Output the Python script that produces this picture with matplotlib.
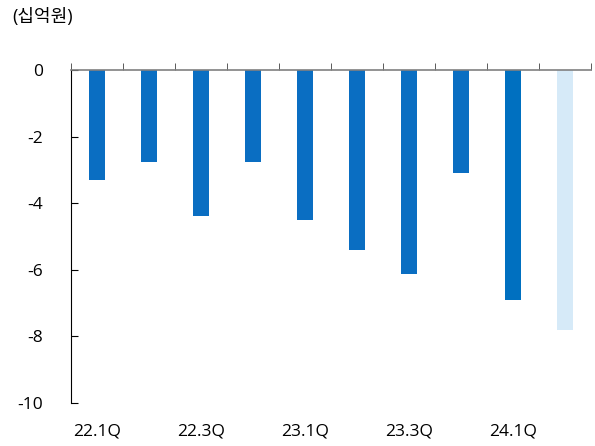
import matplotlib.pyplot as plt
import numpy as np

plt.rcParams['font.family'] = ['Open Sans', 'Noto Sans CJK KR', 'DejaVu Sans']

# 분기별 값 (십억원)
quarters = ["22.1Q", "22.2Q", "22.3Q", "22.4Q", "23.1Q", "23.2Q",
            "23.3Q", "23.4Q", "24.1Q", "24.2Q"]
values = [-3.3, -2.77, -4.38, -2.77, -4.5, -5.42, -6.13, -3.1, -6.9, -7.8]
colors = ["#0A6EC2"] * 8 + ["#0070C0", "#D6EAF8"]
yticks = [0, -2, -4, -6, -8, -10]

fig = plt.figure(figsize=(5.95, 4.46), dpi=100)
ax = fig.add_axes([0.119, 0.0964, 0.874, 0.7466])

x = np.arange(len(quarters))
ax.bar(x, values, width=0.31, color=colors, zorder=2)

ax.set_xlim(-0.5, len(quarters) - 0.5)
ax.set_ylim(-10, 0)

for s in ["right", "bottom"]:
    ax.spines[s].set_visible(False)
ax.spines["top"].set_color("#808080")
ax.spines["top"].set_linewidth(1.2)
ax.spines["left"].set_color("black")

ax.set_xticks(x[::2])
ax.set_xticklabels(quarters[::2], fontsize=12.5)
ax.tick_params(axis="x", length=0, pad=15)
ax.set_xticks(np.arange(len(quarters) + 1) - 0.5, minor=True)
ax.tick_params(axis="x", which="minor", bottom=False, top=True,
               direction="out", length=5, color="#404040")

ax.set_yticks(yticks)
ax.set_yticklabels([str(v) for v in yticks], fontsize=12.5)
ax.tick_params(axis="y", direction="in", length=5, pad=20)

fig.text(0.02, 0.962, "(십억원)", fontsize=13, va="center", ha="left")

fig.savefig("out.png")
